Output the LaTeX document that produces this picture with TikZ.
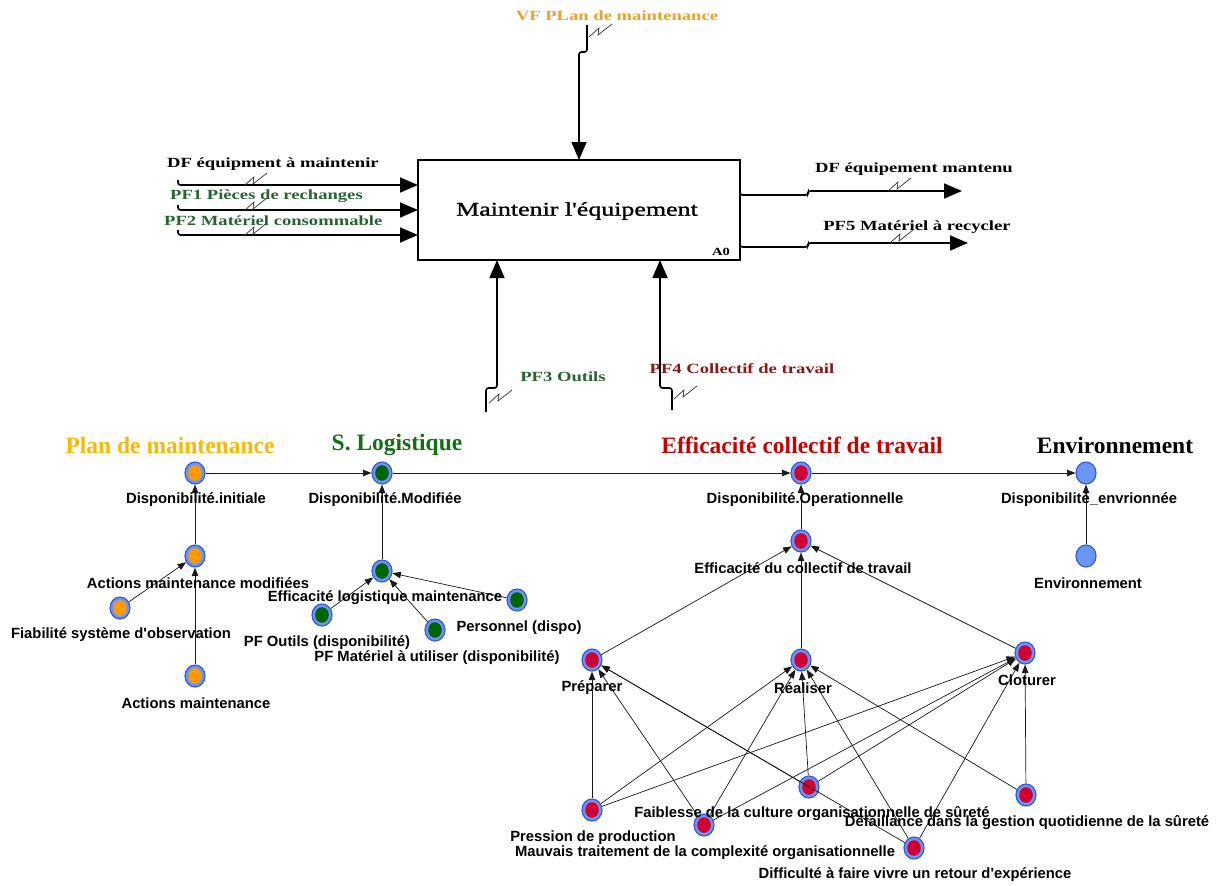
\documentclass[tikz,border=0pt]{standalone}
\usepackage{fontspec}
\usetikzlibrary{arrows.meta,shapes.geometric}
\newfontfamily\idf[FakeStretch=1.33]{Liberation Serif}
\newfontfamily\idfb[FakeStretch=1.33,FakeBold=1.2]{Liberation Serif}
\newfontfamily\lbsans{Liberation Sans}
\newfontfamily\hdserif{Liberation Serif}
\definecolor{vforange}{RGB}{236,162,40}
\definecolor{pfgreen}{RGB}{40,100,50}
\definecolor{pfred}{RGB}{140,22,22}
\definecolor{hdorange}{RGB}{250,185,0}
\definecolor{hdgreen}{RGB}{20,110,20}
\definecolor{hdred}{RGB}{200,0,0}
\definecolor{ndfill}{RGB}{105,150,245}
\definecolor{ndbd}{RGB}{60,90,210}
\definecolor{dotorange}{RGB}{255,153,0}
\definecolor{dotgreen}{RGB}{0,100,0}
\definecolor{dotred}{RGB}{210,0,50}
\begin{document}
\begin{tikzpicture}[x=1pt,y=-1pt,
  nd/.style={ellipse, draw=ndbd, fill=ndfill, line width=1.2pt, minimum width=20pt, minimum height=22pt, inner sep=0pt},
  dotO/.style={nd, path picture={\fill[dotorange] (path picture bounding box.center) ellipse [x radius=6.8pt, y radius=7.8pt];}},
  dotG/.style={nd, path picture={\fill[dotgreen] (path picture bounding box.center) ellipse [x radius=6.8pt, y radius=7.8pt];}},
  dotR/.style={nd, path picture={\fill[dotred] (path picture bounding box.center) ellipse [x radius=6.8pt, y radius=7.8pt];}},
  lbl/.style={font=\lbsans\bfseries\fontsize{14.8}{17}\selectfont, inner sep=0pt, anchor=center},
  hdr/.style={font=\hdserif\bfseries\fontsize{23.5}{28}\selectfont, inner sep=0pt, anchor=center},
  ttl/.style={font=\idf\bfseries\fontsize{14}{16}\selectfont, inner sep=0pt},
  ed/.style={draw=black!90, line width=0.7pt, -{Triangle[length=8.5pt,width=6.5pt]}},
  idefline/.style={line width=1.6pt, rounded corners=2.5pt},
  idefarr/.style={idefline, -{Triangle[length=18pt,width=15pt]}},
  brkline/.style={line width=0.7pt, draw=black!80},
  brk/.pic={\draw[brkline] (0,0) -- (10,-9) -- (9,-2) -- (23,-13);}
]
\fill[white] (0,0) rectangle (1219,886);
\useasboundingbox (0,0) rectangle (1219,886);

% ---------------- IDEF0 box ----------------
\node[draw, line width=1.6pt, minimum width=322pt, minimum height=100pt, inner sep=0pt, outer sep=0pt] (box) at (579,210) {};
\node[font=\idfb\fontsize{19.5}{22}\selectfont, inner sep=0pt] (boxt) at (577,211) {Maintenir l'équipement};
\node[font=\idf\bfseries\fontsize{11}{13}\selectfont, inner sep=0pt] (a0) at (721,252) {A0};

% control
\node[ttl, text=vforange] (vf) at (617,16) {VF PLan de maintenance};
\coordinate (ctop) at (587,25);
\draw[idefarr] (ctop) -- (587,52) -- (box.north |- 0,52) -- (box.north);
\pic at (589,37) {brk};

% inputs
\node[ttl, anchor=west] (dfin) at (167,164) {DF équipment à maintenir};
\node[ttl, anchor=west, text=pfgreen] (pf1) at (170,196) {PF1 Pièces de rechanges};
\node[ttl, anchor=west, text=pfgreen] (pf2) at (164,221) {PF2 Matériel consommable};
\coordinate (i1) at (178,180);
\coordinate (i2) at (178,205);
\coordinate (i3) at (178,230);
\draw[idefarr] (i1) -- (178,185) -- (box.west |- 0,185);
\draw[idefarr] (i2) -- (178,210) -- (box.west |- 0,210);
\draw[idefarr] (i3) -- (178,235) -- (box.west |- 0,235);
\pic at (244,186) {brk};
\pic at (244,211) {brk};
\pic at (244,236) {brk};

% outputs
\node[ttl] (dfout) at (914,169) {DF équipement mantenu};
\node[ttl] (pf5) at (917,227) {PF5 Matériel à recycler};
\coordinate (o1) at (962,191);
\coordinate (o2) at (968,243);
\draw[idefarr] (box.east |- 0,188) -- (box.east |- 0,195) -- (808,195) -- (808,191) -- (o1);
\draw[idefarr] (box.east |- 0,240) -- (box.east |- 0,247) -- (808,247) -- (808,243) -- (o2);
\pic at (888,191) {brk};
\pic at (890,243) {brk};

% mechanisms
\node[ttl, text=pfgreen] (pf3) at (563,377) {PF3 Outils};
\node[ttl, text=pfred] (pf4) at (742,369) {PF4 Collectif de travail};
\coordinate (m1) at (486,412);
\coordinate (m2) at (672,410);
\draw[idefarr] (m1) -- (486,388) -- (497,388) -- (box.south -| 497,0);
\draw[idefarr] (m2) -- (672,388) -- (660,388) -- (box.south -| 660,0);
\pic at (489,403) {brk};
\pic at (674,399) {brk};

% ---------------- network ----------------
\node[hdr, text=hdorange] (h1) at (170,445) {Plan de maintenance};
\node[hdr, text=hdgreen] (h2) at (397,445) {S. Logistique};
\node[hdr, text=hdred] (h3) at (802,445) {Efficacité collectif de travail};
\node[hdr] (h4) at (1115,445) {Environnement};

\node[dotO] (DI) at (195,473) {};
\node[dotG] (DM) at (382,473) {};
\node[dotR] (DO) at (801,473) {};
\node[nd] (DE) at (1086,473) {};
\node[dotO] (AMM) at (195,556) {};
\node[dotO] (FSO) at (120,608) {};
\node[dotO] (AM) at (195,676) {};
\node[dotG] (ELM) at (382,571) {};
\node[dotG] (PFO) at (322,615) {};
\node[dotG] (PFM) at (435,630) {};
\node[dotG] (PER) at (517,600) {};
\node[dotR] (ECT) at (801,541) {};
\node[nd] (ENV) at (1086,556) {};
\node[dotR] (PRE) at (592,660) {};
\node[dotR] (REA) at (801,660) {};
\node[dotR] (CLO) at (1025,653) {};
\node[dotR] (PP) at (592,810) {};
\node[dotR] (MT) at (704,825) {};
\node[dotR] (FC) at (809,787) {};
\node[dotR] (DG) at (1026,795) {};
\node[dotR] (DR) at (914,848) {};

\draw[ed] (DI) -- (DM);
\draw[ed] (DM) -- (DO);
\draw[ed] (DO) -- (DE);
\draw[ed] (AMM) -- (DI);
\draw[ed] (FSO) -- (AMM);
\draw[ed] (AM) -- (AMM);
\draw[ed] (ELM) -- (DM);
\draw[ed] (PFO) -- (ELM);
\draw[ed] (PFM) -- (ELM);
\draw[ed] (PER) -- (ELM);
\draw[ed] (ECT) -- (DO);
\draw[ed] (ENV) -- (DE);
\draw[ed] (PRE) -- (ECT);
\draw[ed] (REA) -- (ECT);
\draw[ed] (CLO) -- (ECT);
\draw[ed] (PP) -- (PRE);
\draw[ed] (PP) -- (REA);
\draw[ed] (PP) -- (CLO);
\draw[ed] (MT) -- (PRE);
\draw[ed] (MT) -- (REA);
\draw[ed] (MT) -- (CLO);
\draw[ed] (FC) -- (PRE);
\draw[ed] (FC) -- (REA);
\draw[ed] (FC) -- (CLO);
\draw[ed] (DR) -- (PRE);
\draw[ed] (DR) -- (REA);
\draw[ed] (DR) -- (CLO);
\draw[ed] (DG) -- (REA);
\draw[ed] (DG) -- (CLO);

\node[lbl] (lDI) at (196,500) {Disponibilité.initiale};
\node[lbl] (lDM) at (385,500) {Disponibilité.Modifiée};
\node[lbl] (lDO) at (805,500) {Disponibilité.Operationnelle};
\node[lbl] (lDE) at (1089,500) {Disponibilité\_envrionnée};
\node[lbl] (lAMM) at (198,583) {Actions maintenance modifiées};
\node[lbl] (lFSO) at (121,635) {Fiabilité système d'observation};
\node[lbl] (lAM) at (196,703) {Actions maintenance};
\node[lbl] (lELM) at (385,598) {Efficacité logistique maintenance};
\node[lbl] (lPFO) at (327,643) {PF Outils (disponibilité)};
\node[lbl] (lPFM) at (437,658) {PF Matériel à utiliser (disponibilité)};
\node[lbl] (lPER) at (519,628) {Personnel (dispo)};
\node[lbl] (lECT) at (803,568) {Efficacité du collectif de travail};
\node[lbl] (lENV) at (1088,583) {Environnement};
\node[lbl] (lPRE) at (592,688) {Préparer};
\node[lbl] (lREA) at (803,688) {Réaliser};
\node[lbl] (lCLO) at (1027,680) {Cloturer};
\node[lbl] (lPP) at (593,838) {Pression de production};
\node[lbl] (lMT) at (705,853) {Mauvais traitement de la complexité organisationnelle};
\node[lbl] (lFC) at (812,814) {Faiblesse de la culture organisationnelle de sûreté};
\node[lbl] (lDG) at (1027,823) {Défaillance dans la gestion quotidienne de la sûreté};
\node[lbl] (lDR) at (915,875) {Difficulté à faire vivre un retour d'expérience};
\end{tikzpicture}
\end{document}
